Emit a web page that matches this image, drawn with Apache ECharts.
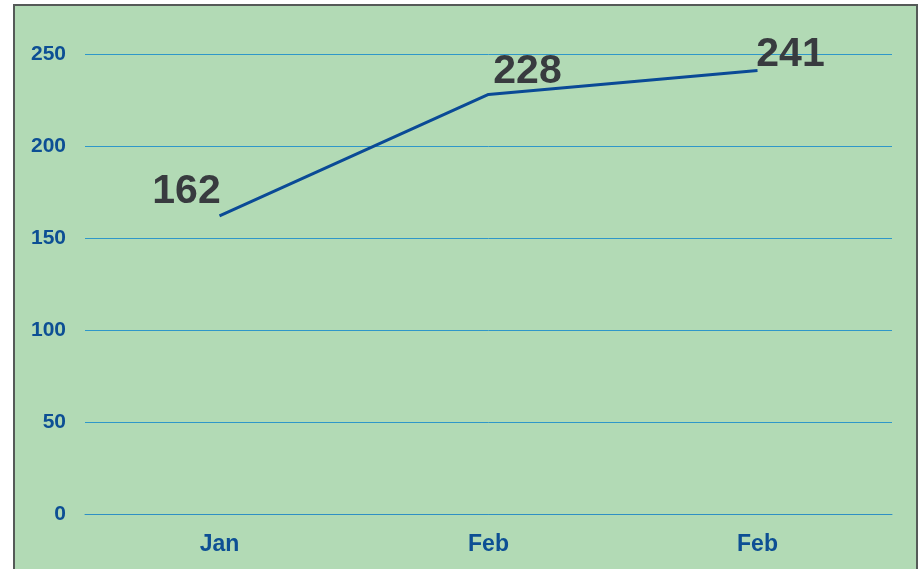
<!DOCTYPE html>
<html>
<head>
<meta charset="utf-8">
<script src="https://cdn.jsdelivr.net/npm/echarts@6/dist/echarts.min.js"></script>
<style>
  html, body { margin: 0; padding: 0; background: #ffffff; overflow: hidden; width: 919px; height: 569px; }
  #wrap { position: absolute; left: 13px; top: 4px; width: 905px; height: 600px; border: 2px solid #555a58; box-sizing: border-box; background: #b2dab5; }
  #chart { width: 901px; height: 596px; }
</style>
</head>
<body>
<div id="wrap"><div id="chart"></div></div>
<script>
const categories = ["Jan", "Feb", "Feb"];
const values = [162, 228, 241];
const yTicks = { min: 0, max: 250, interval: 50 };

const labelShifts = [[-33, 2], [39, 3], [33, 10]];

const chart = echarts.init(document.getElementById('chart'), null, { renderer: 'canvas' });
const font = '"Liberation Sans", Arial, sans-serif';
chart.setOption({
  backgroundColor: '#b2dab5',
  animation: false,
  grid: { left: 70, top: 48, width: 807, height: 460, containLabel: false },
  xAxis: {
    type: 'category',
    data: categories,
    boundaryGap: true,
    axisLine: { show: true, lineStyle: { color: '#2f8fc4', width: 1 } },
    axisTick: { show: false },
    axisLabel: { color: '#0d4f94', fontSize: 23, fontWeight: 'bold', fontFamily: font, margin: 19 }
  },
  yAxis: {
    type: 'value',
    min: yTicks.min, max: yTicks.max, interval: yTicks.interval,
    axisLine: { show: false },
    axisTick: { show: false },
    splitLine: { show: true, lineStyle: { color: '#2f97c9', width: 1 } },
    axisLabel: { color: '#0d4f94', fontSize: 21, fontWeight: 'bold', fontFamily: font, margin: 19 }
  },
  series: [{
    type: 'line',
    data: values,
    symbol: 'circle',
    symbolSize: 1,
    showSymbol: true,
    itemStyle: { color: 'rgba(0,0,0,0)', borderWidth: 0 },
    lineStyle: { color: '#0a4a96', width: 3 },
    labelLayout: function (p) {
      const s = labelShifts[p.dataIndex] || [0, 0];
      return { dx: s[0], dy: s[1], hideOverlap: false };
    },
    label: {
      show: true,
      position: 'top',
      distance: 5,
      color: '#383b3f',
      fontSize: 41,
      fontWeight: 'bold',
      fontFamily: font
    }
  }]
});
</script>
</body>
</html>
